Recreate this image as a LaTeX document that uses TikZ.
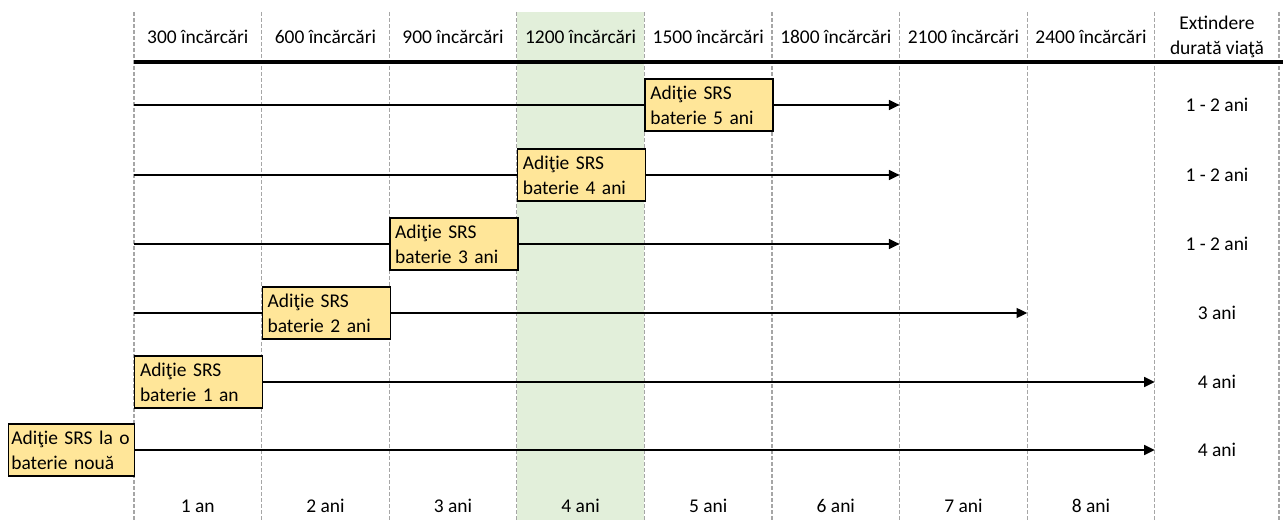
\documentclass[tikz,border=0pt]{standalone}
\usepackage{fontspec}
\setmainfont{Carlito}
\usetikzlibrary{arrows.meta,positioning}
\definecolor{srsyellow}{HTML}{FFE699}
\definecolor{colgreen}{HTML}{E2EFDA}
\definecolor{sepgray}{HTML}{A6A6A6}

\begin{document}
\begin{tikzpicture}[x=0.75pt, y=-0.75pt, every node/.style={font=\fontsize{14.6}{18.75}\selectfont},
  sep/.style={sepgray, line width=0.9pt, dash pattern=on 3pt off 1.5pt},
  srs/.style={draw=black, fill=srsyellow, line width=1pt, anchor=west, text width=88pt,
    inner xsep=4pt, minimum height=39pt, align=left},
  life/.style={black, line width=1.1pt, -{Triangle[length=8pt,width=7.5pt]}}]
  \useasboundingbox (0,0) rectangle (1283,520);
  % highlighted 4-year column
  \fill[colgreen] (516.8,12) rectangle (644.4,520);
  \foreach \i in {0,...,8}
    \draw[sep] ({134+127.6*\i},12) -- ({134+127.6*\i},520);
  \draw[sep] (1279,12) -- (1279,520);
  % header and footer
  \foreach \n [count=\i] in {300,600,...,2400} {
    \node (h\i) at ({134+127.6*(\i-0.5)},37) {\n\ încărcări};
  }
  \node[align=center] (hx) at (1217,37) {Extindere\\durată viaţă};
  \draw[line width=2.4pt] (134,62) -- (1283,62);
  \foreach \t [count=\i] in {1 an,2 ani,3 ani,4 ani,5 ani,6 ani,7 ani,8 ani} {
    \node (f\i) at ({134+127.6*(\i-0.5)},506) {\t};
  }
  % rows with SRS added later
  \foreach \r/\y/\c/\e/\t/\d in {1/105/4/6/5 ani/1 - 2 ani, 2/175/3/6/4 ani/1 - 2 ani,
      3/244/2/6/3 ani/1 - 2 ani, 4/313/1/7/2 ani/3 ani} {
    \node[srs] (b\r) at ({134+127.6*\c},\y) {Adiţie SRS\\baterie \t};
    \coordinate (s\r) at (134,\y);
    \coordinate (e\r) at ({134+127.6*\e},\y);
    \draw[line width=1.1pt] (s\r) -- (b\r.west);
    \draw[life] (b\r.east) -- (e\r);
    \node (x\r) at (1217,\y) {\d};
  }
  \node[srs] (b5) at (134,382) {Adiţie SRS\\baterie 1 an};
  \coordinate (e5) at (1154.8,382);
  \draw[life] (b5.east) -- (e5);
  \node (x5) at (1217,382) {4 ani};
  \node[srs, inner xsep=2pt, text width=90.5pt] (b6) at (8,450) {Adiţie SRS la~o\\baterie nouă};
  \coordinate (e6) at (1154.8,450);
  \draw[life] (b6.east) -- (e6);
  \node (x6) at (1217,450) {4 ani};
\end{tikzpicture}
\end{document}
